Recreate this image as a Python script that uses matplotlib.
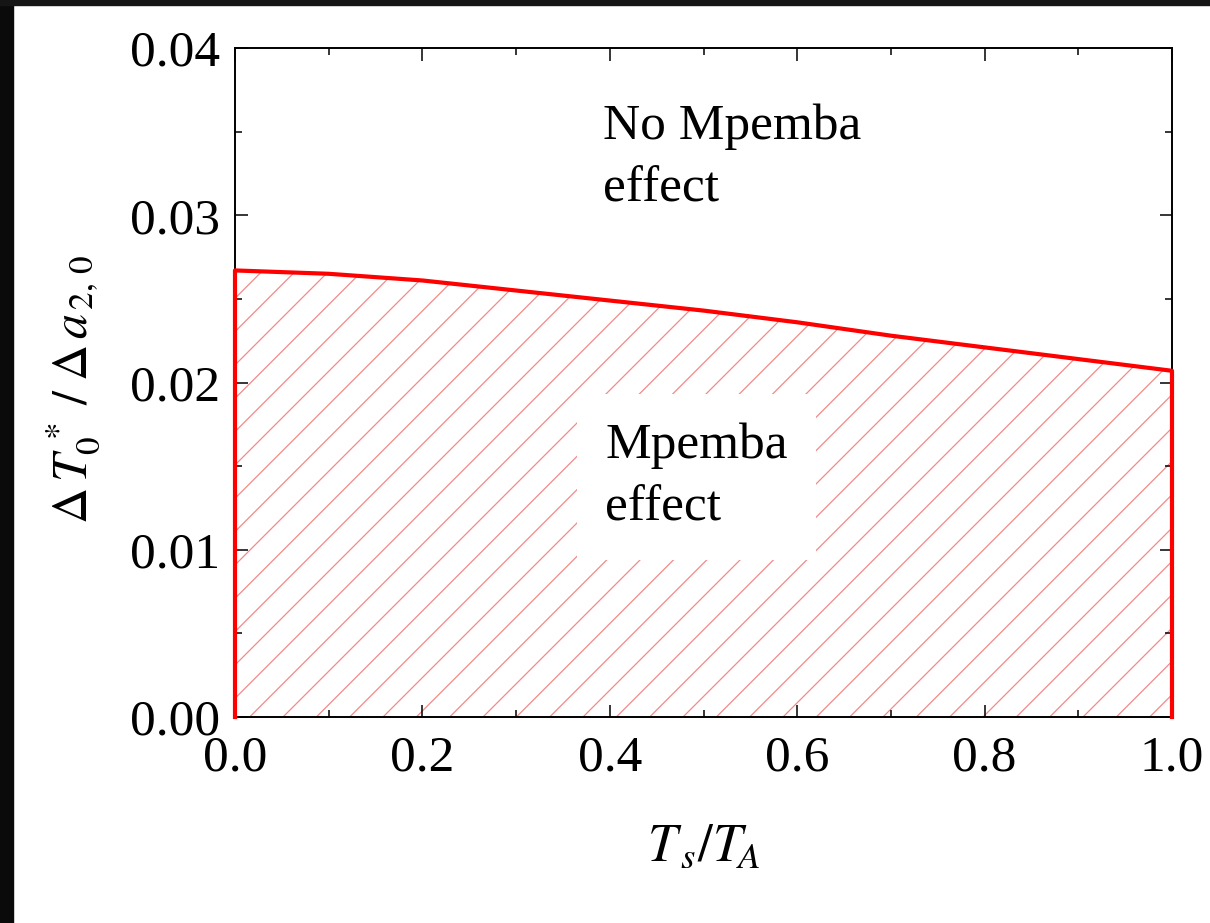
import numpy as np
import matplotlib.pyplot as plt
from matplotlib.patches import Rectangle
from matplotlib.ticker import MultipleLocator

plt.rcParams['font.family'] = ['Liberation Serif', 'DejaVu Serif']
plt.rcParams['mathtext.fontset'] = 'stix'
plt.rcParams['hatch.linewidth'] = 0.9

# boundary of the Mpemba region
ts_ta = [0.0, 0.1, 0.2, 0.3, 0.4, 0.5, 0.6, 0.7, 0.8, 0.9, 1.0]
dT0_crit = [0.0267, 0.0265, 0.0261, 0.0255, 0.0249, 0.0243,
            0.0236, 0.0228, 0.0221, 0.0214, 0.0207]

fig = plt.figure(figsize=(12.1, 9.23), dpi=100)
ax = fig.add_axes([235/1210, 1-717/923, (1172-235)/1210, (717-48)/923])

ax.fill_between(ts_ta, 0, dT0_crit, facecolor='none', edgecolor='#f08a8a',
                linewidth=0, hatch='/', zorder=1)
ax.plot([0.0] + ts_ta + [1.0], [0.0] + dT0_crit + [0.0], color='#ff0000',
        lw=3, clip_on=False, zorder=5)

ax.text(0.393, 0.0367, 'No Mpemba\neffect', fontsize=37, ha='left', va='top',
        linespacing=1.45)
ax.text(0.395, 0.0176, 'Mpemba\neffect', fontsize=37, ha='left', va='top',
        linespacing=1.45,
        bbox=dict(boxstyle='square,pad=0.55', facecolor='white', edgecolor='none'),
        zorder=3)

ax.set_xlim(0, 1)
ax.set_ylim(0, 0.04)
ax.xaxis.set_major_locator(MultipleLocator(0.2))
ax.xaxis.set_minor_locator(MultipleLocator(0.1))
ax.yaxis.set_major_locator(MultipleLocator(0.01))
ax.yaxis.set_minor_locator(MultipleLocator(0.005))
ax.xaxis.set_major_formatter(lambda v, p: f'{v:.1f}')
ax.yaxis.set_major_formatter(lambda v, p: f'{v:.2f}')

ax.tick_params(which='both', direction='in', top=True, right=True, width=1.1,
               labelsize=37)
ax.tick_params(which='major', length=9)
ax.tick_params(which='minor', length=5)
ax.tick_params(axis='x', pad=13)
ax.tick_params(axis='y', pad=11)
for s in ax.spines.values():
    s.set_linewidth(1.4)

ax.set_xlabel(r'$T_{\,s}/T_{\!A}$', fontsize=38)
ax.xaxis.set_label_coords(0.5, -0.16)
ax.xaxis.label.set_va('top')
ax.set_ylabel(r'$\Delta\,T_{0}^{\,*}\;/\;\Delta\, a_{\,2,\,0}$', fontsize=36)
ax.yaxis.set_label_coords(-0.142, 0.49)

# dark frame along the top and left edges
fig.patches.append(Rectangle((0, 0), 13/1210, 1, transform=fig.transFigure,
                             color='#0a0a0a', zorder=10))
fig.patches.append(Rectangle((0, 1-5/923), 1, 5/923, transform=fig.transFigure,
                             color='#151515', zorder=10))

fig.savefig('out.png', dpi=100)
